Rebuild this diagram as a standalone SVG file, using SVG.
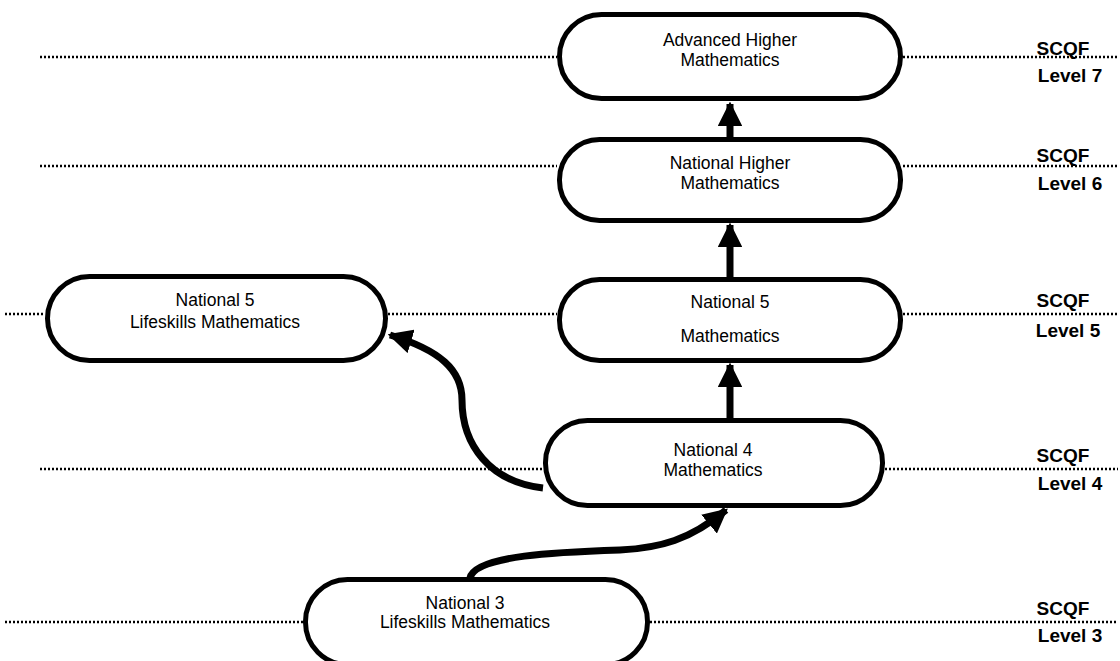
<svg xmlns="http://www.w3.org/2000/svg" width="1120" height="661" viewBox="0 0 1120 661">
<defs>
<style>
.node rect{fill:#fff;stroke:#000;stroke-width:5}
.t{font-family:"Liberation Sans",Arial,sans-serif;font-size:17.5px;fill:#000;text-anchor:middle}
.lv{font-family:"Liberation Sans",Arial,sans-serif;font-size:19px;font-weight:bold;fill:#000;text-anchor:middle}
.dot{stroke:#000;stroke-width:2.5;stroke-dasharray:2 2;fill:none}
.conn path{fill:none;stroke:#000;stroke-width:7}
</style>
<marker id="ah" viewBox="0 0 10 10" refX="9" refY="5" markerWidth="3.5" markerHeight="3.5" orient="auto" markerUnits="strokeWidth">
<path d="M0,0 L10,5 L0,10 z" fill="#000"/>
</marker>
</defs>
<rect width="1120" height="661" fill="#fff"/>
<g id="levels">
<path class="dot" d="M40 57H557M903 57H1118"/>
<path class="dot" d="M40 166H557M903 166H1118"/>
<path class="dot" d="M5 314H45M388 314H557M903 314H1118"/>
<path class="dot" d="M40 469H543M885 469H1118"/>
<path class="dot" d="M5 622H303M650 622H1118"/>
<text class="lv" x="1063" y="55">SCQF</text><text class="lv" x="1070" y="82">Level 7</text>
<text class="lv" x="1063" y="162">SCQF</text><text class="lv" x="1070" y="190">Level 6</text>
<text class="lv" x="1063" y="307">SCQF</text><text class="lv" x="1068" y="337">Level 5</text>
<text class="lv" x="1063" y="462">SCQF</text><text class="lv" x="1070" y="490">Level 4</text>
<text class="lv" x="1063" y="615">SCQF</text><text class="lv" x="1070" y="642">Level 3</text>
</g>
<g id="connectors" class="conn">
<path d="M730 137V104" marker-end="url(#ah)"/>
<path d="M730 277V225" marker-end="url(#ah)"/>
<path d="M730 418V365" marker-end="url(#ah)"/>
<path d="M543 488C490 482 462 445 462 400C462 370 440 350 390 335" marker-end="url(#ah)"/>
<path d="M470 578C475 555 560 552 620 550C660 548 690 540 726 510" marker-end="url(#ah)"/>
</g>
<g id="n-ah" class="node"><rect x="559.5" y="14.5" width="341" height="84" rx="42"/>
<text class="t" x="730" y="46">Advanced Higher</text><text class="t" x="730" y="66">Mathematics</text></g>
<g id="n-nh" class="node"><rect x="559.5" y="139.5" width="341" height="81" rx="40"/>
<text class="t" x="730" y="169">National Higher</text><text class="t" x="730" y="189">Mathematics</text></g>
<g id="n-n5" class="node"><rect x="559.5" y="279.5" width="341" height="81" rx="40"/>
<text class="t" x="730" y="308">National 5</text><text class="t" x="730" y="342">Mathematics</text></g>
<g id="n-n5ls" class="node"><rect x="47.5" y="276.5" width="338" height="84" rx="42"/>
<text class="t" x="215" y="306">National 5</text><text class="t" x="215" y="328">Lifeskills Mathematics</text></g>
<g id="n-n4" class="node"><rect x="545.5" y="420.5" width="337" height="85" rx="42"/>
<text class="t" x="713" y="456">National 4</text><text class="t" x="713" y="476">Mathematics</text></g>
<g id="n-n3" class="node"><rect x="305.5" y="579.5" width="342" height="85" rx="42"/>
<text class="t" x="465" y="609">National 3</text><text class="t" x="465" y="628">Lifeskills Mathematics</text></g>
</svg>
